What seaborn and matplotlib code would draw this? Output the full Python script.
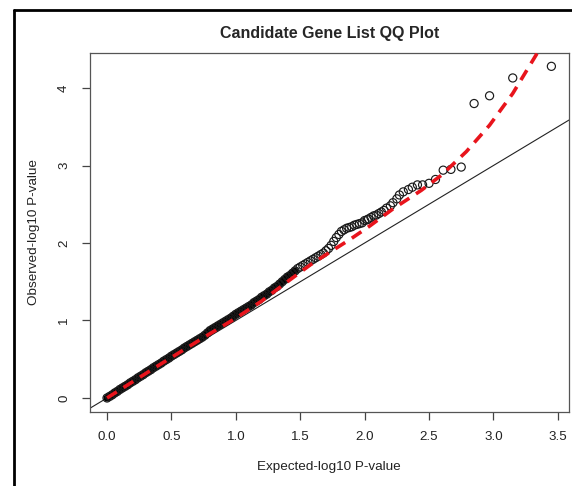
import numpy as np
import pandas as pd
import matplotlib
matplotlib.use("Agg")
import matplotlib.pyplot as plt
from matplotlib.lines import Line2D
import seaborn as sns

# dense part of the QQ cloud
expected_dense = [0.00, 0.02, 0.04, 0.06, 0.08, 0.10, 0.12, 0.14, 0.16, 0.18,
                  0.20, 0.22, 0.24, 0.26, 0.28, 0.30, 0.32, 0.34, 0.36, 0.38,
                  0.40, 0.42, 0.44, 0.46, 0.48, 0.50, 0.52, 0.54, 0.56, 0.58,
                  0.60, 0.62, 0.64, 0.66, 0.68, 0.70, 0.72, 0.74, 0.76, 0.78,
                  0.80, 0.82, 0.84, 0.86, 0.88, 0.90, 0.92, 0.94, 0.96, 0.98,
                  1.00, 1.02, 1.04, 1.06, 1.08, 1.10, 1.12, 1.14, 1.16, 1.18,
                  1.20, 1.22, 1.24, 1.26, 1.28, 1.30, 1.32, 1.34, 1.36, 1.38,
                  1.40, 1.42, 1.44, 1.46, 1.48, 1.50, 1.52, 1.54, 1.56, 1.58,
                  1.60, 1.62, 1.64, 1.66, 1.68, 1.70, 1.72, 1.74, 1.76, 1.78,
                  1.80, 1.82, 1.84, 1.86, 1.88, 1.90, 1.92, 1.94, 1.96, 1.98]
observed_dense = [0.00, 0.02, 0.04, 0.065, 0.085, 0.11, 0.13, 0.15, 0.17, 0.195,
                  0.215, 0.235, 0.26, 0.28, 0.30, 0.325, 0.345, 0.365, 0.39, 0.41,
                  0.43, 0.45, 0.475, 0.495, 0.515, 0.54, 0.56, 0.58, 0.60, 0.62,
                  0.645, 0.665, 0.685, 0.705, 0.725, 0.745, 0.765, 0.785, 0.81, 0.84,
                  0.87, 0.89, 0.91, 0.93, 0.95, 0.97, 0.99, 1.01, 1.03, 1.055,
                  1.08, 1.10, 1.12, 1.14, 1.16, 1.18, 1.20, 1.23, 1.25, 1.27,
                  1.30, 1.32, 1.34, 1.37, 1.39, 1.42, 1.44, 1.47, 1.50, 1.53,
                  1.56, 1.58, 1.61, 1.64, 1.67, 1.69, 1.71, 1.73, 1.75, 1.77,
                  1.79, 1.81, 1.83, 1.85, 1.87, 1.90, 1.93, 1.97, 2.02, 2.07,
                  2.11, 2.15, 2.17, 2.19, 2.20, 2.21, 2.23, 2.24, 2.25, 2.26]

# sparse tail
expected_tail = [2.00, 2.02, 2.03, 2.05, 2.07, 2.09, 2.11, 2.13, 2.15, 2.17,
                 2.20, 2.22, 2.25, 2.27, 2.30, 2.34, 2.37, 2.41, 2.45, 2.50,
                 2.55, 2.61, 2.67, 2.75, 2.85, 2.97, 3.15, 3.45]
observed_tail = [2.29, 2.30, 2.31, 2.33, 2.35, 2.36, 2.38, 2.40, 2.42, 2.45,
                 2.48, 2.52, 2.57, 2.62, 2.66, 2.69, 2.72, 2.75, 2.75, 2.77,
                 2.82, 2.94, 2.95, 2.98, 3.80, 3.90, 4.13, 4.28]

# red dashed fitted curve
fit_x = [0.00, 0.40, 0.75, 1.00, 1.20, 1.40, 1.58, 1.71, 1.89, 2.04,
         2.22, 2.44, 2.60, 2.79, 2.97, 3.15, 3.34, 3.45]
fit_y = [0.00, 0.42, 0.78, 1.03, 1.25, 1.50, 1.72, 1.86, 2.05, 2.22,
         2.44, 2.68, 2.88, 3.18, 3.52, 3.93, 4.45, 4.80]

x_ticks = [0.0, 0.5, 1.0, 1.5, 2.0, 2.5, 3.0, 3.5]
y_ticks = [0, 1, 2, 3, 4]

pts = pd.DataFrame({
    "expected": expected_dense + expected_tail,
    "observed": observed_dense + observed_tail,
})
# where thousands of circles overplot into a solid band
band = pts[pts["expected"] <= 1.46]
fit = pd.DataFrame({"x": fit_x, "y": fit_y})

sns.set_style("ticks")
plt.rcParams["font.family"] = ["Liberation Sans", "DejaVu Sans"]

fig = plt.figure(figsize=(5.72, 4.86), dpi=100)
ax = fig.add_axes([0.1565, 0.1529, 0.8383, 0.7374])

ax.axline((0, 0), slope=1, color="#222222", lw=0.8, zorder=1)
sns.lineplot(data=band, x="expected", y="observed", ax=ax, color="black",
             lw=5.2, solid_capstyle="round", sort=False, zorder=2)
sns.scatterplot(data=pts, x="expected", y="observed", ax=ax, marker="o",
                s=34, facecolor="none", edgecolor="#1a1a1a", linewidth=0.85,
                zorder=2)
sns.lineplot(data=fit, x="x", y="y", ax=ax, color="#e8141c", lw=2.6,
             linestyle=(0, (3.2, 2.2)), sort=False, zorder=3)

ax.set_xlim(-0.136, 3.587)
ax.set_ylim(-0.177, 4.448)
ax.set_xticks(x_ticks)
ax.set_xticklabels([f"{v:.1f}" for v in x_ticks])
ax.set_yticks(y_ticks)
ax.set_yticklabels([str(v) for v in y_ticks], rotation=90, va="center")
ax.tick_params(axis="both", length=6, width=0.9, color="#444444",
               labelsize=9.6, labelcolor="#222222", pad=8)
for s in ax.spines.values():
    s.set_color("#555555")
    s.set_linewidth(0.9)

ax.set_xlabel("Expected-log10 P-value", fontsize=9.7, color="#222222", labelpad=13)
ax.set_ylabel("Observed-log10 P-value", fontsize=9.7, color="#222222", labelpad=13)
ax.set_title("Candidate Gene List QQ Plot", fontsize=11.5, fontweight="bold",
             pad=11)

# outer frame (cropped on right/bottom)
fig.add_artist(Line2D([13.5 / 572, 13.5 / 572], [0, 1 - 10 / 486],
                      transform=fig.transFigure, color="black", lw=2))
fig.add_artist(Line2D([13.5 / 572, 1], [1 - 10 / 486, 1 - 10 / 486],
                      transform=fig.transFigure, color="black", lw=2))

fig.savefig("out.png", dpi=100)
